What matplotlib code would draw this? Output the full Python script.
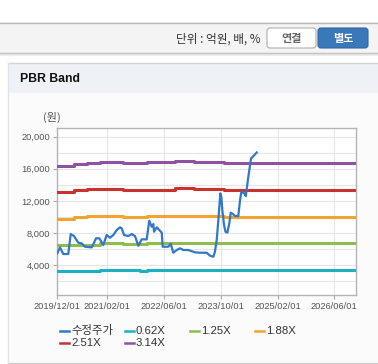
import matplotlib
matplotlib.use('agg')
import matplotlib.pyplot as plt
import numpy as np
import pandas as pd
from matplotlib.patches import Rectangle, FancyBboxPatch
from matplotlib.lines import Line2D

plt.rcParams['font.family'] = ['Liberation Sans', 'Noto Sans CJK KR', 'DejaVu Sans']

# ---- data ----
price_dates = ['2019-12-01', '2019-12-24', '2020-01-21', '2020-03-04', '2020-03-25', '2020-04-22',
               '2020-05-29', '2020-06-27', '2020-07-25', '2020-09-21', '2020-10-05', '2020-10-28',
               '2020-11-25', '2020-12-29', '2021-01-27', '2021-02-25', '2021-03-25', '2021-04-23',
               '2021-05-21', '2021-06-05', '2021-06-25', '2021-07-31', '2021-08-30', '2021-09-27',
               '2021-10-25', '2021-11-23', '2022-01-05', '2022-01-27', '2022-02-17', '2022-03-03',
               '2022-03-09', '2022-04-01', '2022-04-23', '2022-05-14', '2022-05-22', '2022-07-09',
               '2022-07-30', '2022-08-21', '2022-09-19', '2022-10-18', '2022-11-15', '2022-12-28',
               '2023-02-23', '2023-04-07', '2023-06-03', '2023-07-02', '2023-07-30', '2023-08-13',
               '2023-08-28', '2023-09-11', '2023-09-28', '2023-10-07', '2023-10-15', '2023-10-30',
               '2023-11-11', '2023-11-27', '2023-12-14', '2023-12-26', '2024-01-17', '2024-02-01',
               '2024-02-29', '2024-03-15', '2024-03-26', '2024-04-21', '2024-05-03', '2024-05-25',
               '2024-06-17', '2024-07-07', '2024-08-05']
price = [5460, 6200, 5370, 5370, 7860, 7610,
         6780, 6700, 6280, 6200, 6620, 7330,
         7330, 6490, 7740, 7400, 7740, 8360,
         8700, 8570, 7740, 7610, 7860, 7610,
         6400, 7200, 7200, 9520, 8770, 9110,
         8150, 8700, 8360, 8030, 6280, 6280,
         6650, 5530, 5870, 6080, 5870, 5870,
         5580, 5530, 5530, 5160, 5030, 5660,
         7120, 9610, 12930, 12430, 10850, 8980,
         8150, 8030, 9200, 10520, 10320, 10110,
         10110, 12100, 13130, 12930, 12600, 15000,
         17300, 17580, 18040]

band_dates = ['2019-12-01', '2020-04-25', '2020-08-12', '2020-12-01', '2021-06-15', '2021-11-05',
              '2022-01-10', '2022-09-01', '2023-02-15', '2023-11-01', '2026-12-01']
band_062 = [3250, 3250, 3250, 3410, 3410, 3250, 3410, 3410, 3410, 3410, 3410]
band_125 = [6530, 6530, 6530, 6740, 6620, 6620, 6740, 6740, 6740, 6740, 6740]
band_188 = [9730, 9940, 10100, 10100, 9980, 9980, 10140, 10140, 10140, 10020, 10020]
band_251 = [13130, 13345, 13470, 13470, 13345, 13345, 13345, 13590, 13470, 13345, 13345]
band_314 = [16400, 16610, 16780, 16900, 16780, 16780, 16900, 17030, 16830, 16710, 16710]

x_ticks = ['2019/12/01', '2021/02/01', '2022/06/01', '2023/10/01', '2025/02/01', '2026/06/01']
y_ticks = [4000, 8000, 12000, 16000, 20000]
y_grid = [2000, 6000, 10000, 14000, 18000]

series = [
    ('수정주가', '#3277c9', 1.6),
    ('0.62X', '#1eb0c2', 2.2),
    ('1.25X', '#8fbd4c', 2.2),
    ('1.88X', '#f0a530', 2.2),
    ('2.51X', '#c9322d', 2.2),
    ('3.14X', '#8e52a0', 2.2),
]

W, H = 378, 364
KR = ['Noto Sans CJK KR', 'DejaVu Sans']


def fx(x):
    return x / W


def fy(y):
    return 1 - y / H


fig = plt.figure(figsize=(W / 100, H / 100), dpi=100)
fig.patch.set_facecolor('white')


# ---- page decorations ----
def rect(x0, y0, x1, y1, color, z=-10):
    fig.add_artist(Rectangle((fx(x0), fy(y1)), fx(x1 - x0), (y1 - y0) / H,
                             transform=fig.transFigure, facecolor=color,
                             edgecolor='none', zorder=z))


def hline(y, x0, x1, color, lw=1.0, z=-5):
    fig.add_artist(Line2D([fx(x0), fx(x1)], [fy(y), fy(y)], transform=fig.transFigure,
                          color=color, lw=lw, zorder=z))


rect(0, 22, W, 53, '#f4f4f4')
hline(22.5, 0, W, '#b8b8b8')
hline(53, 0, W, '#c2c2c2')
rect(0, 53.5, W, 56, '#ececec')
fig.text(fx(260), fy(39), '단위 : 억원, 배, %', ha='right', va='center', fontsize=8.4,
         color='#333333', family=KR)

fig.add_artist(FancyBboxPatch((fx(267), fy(48)), fx(49), 20 / H, boxstyle='round,pad=0,rounding_size=0.008',
                              transform=fig.transFigure, facecolor='white', edgecolor='#b0b0b0',
                              lw=0.8, zorder=-4))
fig.text(fx(291.5), fy(38.5), '연결', ha='center', va='center', fontsize=8, fontweight='bold',
         color='#666666', family=KR)
fig.add_artist(FancyBboxPatch((fx(318), fy(48)), fx(50), 20 / H, boxstyle='round,pad=0,rounding_size=0.008',
                              transform=fig.transFigure, facecolor='#3b78ba', edgecolor='#2f66a3',
                              lw=0.8, zorder=-4))
fig.text(fx(343), fy(38.5), '별도', ha='center', va='center', fontsize=8, fontweight='bold',
         color='white', family=KR)

rect(8, 63, W, 92.5, '#eef2f7')
rect(8, 92.5, W, 362, '#fbfbfb')
hline(63, 8, W, '#d4d4d4')
hline(362.5, 8, W, '#cccccc')
fig.add_artist(Line2D([fx(8), fx(8)], [fy(63), fy(362.5)], transform=fig.transFigure,
                      color='#e2e2e2', lw=1, zorder=-5))
fig.text(fx(20), fy(79), 'PBR Band', ha='left', va='center', fontsize=8.8, fontweight='bold',
         color='#111111')

# ---- chart ----
ax = fig.add_axes([fx(57.3), fy(295), fx(355.7 - 57.3), (295 - 128.3) / H])
ax.set_facecolor('white')

pd_price = pd.to_datetime(price_dates)
pd_band = pd.to_datetime(band_dates)
bands = [band_062, band_125, band_188, band_251, band_314]

for (name, color, lw), vals in zip(series[1:], bands):
    ax.plot(pd_band, vals, color=color, lw=lw, drawstyle='steps-post', zorder=3)
ax.plot(pd_price, price, color=series[0][1], lw=series[0][2], zorder=4)

ax.set_xlim(pd.Timestamp('2019-12-01'), pd.Timestamp('2026-12-01'))
ax.set_ylim(260, 21050)

xt = pd.to_datetime(x_ticks, format='%Y/%m/%d')
ax.set_xticks(xt)
ax.set_xticklabels(x_ticks)
ax.set_yticks(y_ticks)
ax.set_yticklabels([f'{v:,}' for v in y_ticks])
ax.set_yticks(y_grid, minor=True)
ax.tick_params(axis='both', which='major', labelsize=6.7, colors='#aaaaaa', labelcolor='#555555',
               length=3, width=0.8, pad=2)
ax.tick_params(axis='y', which='minor', length=0)
ax.grid(True, which='both', color='#e6e6e6', lw=0.8, zorder=0)
for s in ax.spines.values():
    s.set_color('#b4b4b4')
    s.set_linewidth(1.0)

fig.text(fx(52), fy(117), '(원)', ha='center', va='center', fontsize=8, color='#555555',
         family=KR)

# ---- legend (row-major, fixed columns like the original) ----
leg_pos = [(60, 330.7), (125, 330.7), (190, 330.7), (255, 330.7), (60, 343.3), (125, 343.3)]
for (name, color, lw), (lx, ly) in zip(series, leg_pos):
    fig.add_artist(Line2D([fx(lx), fx(lx + 9)], [fy(ly), fy(ly)], transform=fig.transFigure,
                          color=color, lw=1.8))
    fig.text(fx(lx + 11), fy(ly), name, ha='left', va='center', fontsize=8.2, color='#333333',
             family=KR if name == '수정주가' else None)

fig.savefig('out.png', dpi=100)
